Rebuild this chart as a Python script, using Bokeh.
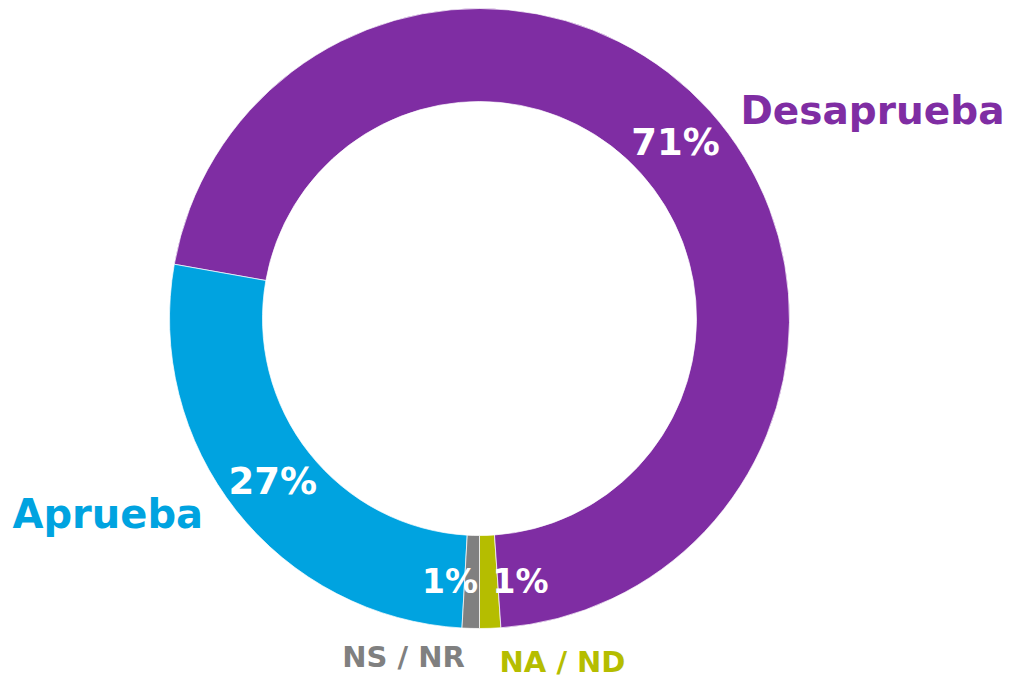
import numpy as np
from bokeh.plotting import figure
from bokeh.models import Range1d, ColumnDataSource
from bokeh.core.properties import value
from bokeh.embed import file_html
from bokeh.resources import INLINE

# data (order: counter-clockwise from 6 o'clock)
categories = ["NA / ND", "Desaprueba", "Aprueba", "NS / NR"]
values = [1.1, 71.1, 26.9, 0.9]
pct_labels = ["1%", "71%", "27%", "1%"]
colors = ["#B5BD00", "#7F2DA3", "#00A3E0", "#808080"]

FONT = "DejaVu Sans"
W, H = 1012, 678
CX, CY = 479, 318  # donut centre in figure pixels from top-left
R_OUT, R_IN = 310, 217

p = figure(width=W, height=H, output_backend="svg", toolbar_location=None,
           x_range=Range1d(-CX, W - CX), y_range=Range1d(-(H - CY), CY),
           min_border=0, outline_line_color=None)
p.axis.visible = False
p.grid.visible = False
p.background_fill_color = "white"
p.border_fill_color = "white"

vals = np.array(values, dtype=float)
frac = vals / vals.sum()
cum = np.concatenate([[0], np.cumsum(frac)])
start = -np.pi / 2 + 2 * np.pi * cum[:-1]
end = -np.pi / 2 + 2 * np.pi * cum[1:]
mid = (start + end) / 2

src = ColumnDataSource(dict(start=start, end=end, color=colors))
p.annular_wedge(x=0, y=0, inner_radius=R_IN, outer_radius=R_OUT,
                start_angle="start", end_angle="end", direction="anticlock",
                fill_color="color", line_color="white", line_width=0.7, source=src)

# percentage labels at mid radius
r_mid = (R_IN + R_OUT) / 2
aligns = ["left", "center", "center", "right"]
sizes = ["33px", "37px", "37px", "33px"]
xoffs = [4, 0, 0, 6]
lsrc = ColumnDataSource(dict(x=r_mid * np.cos(mid), y=r_mid * np.sin(mid),
                             t=pct_labels, align=aligns, size=sizes, xo=xoffs))
p.text(x="x", y="y", text="t", text_align="align", text_baseline="middle",
       x_offset="xo", text_font=value(FONT), text_font_style="bold",
       text_color="white", text_font_size="size", source=lsrc)

# category labels (pixel offsets from donut centre)
cat_x = [83, 261, -467, -76]
cat_y = [-343, 208, -195, -338]
cat_align = ["center", "left", "left", "center"]
cat_size = ["29px", "39px", "40px", "29px"]
csrc = ColumnDataSource(dict(x=cat_x, y=cat_y, t=categories, align=cat_align,
                             size=cat_size, color=colors))
p.text(x="x", y="y", text="t", text_align="align", text_baseline="middle",
       text_font=value(FONT), text_font_style="bold", text_color="color",
       text_font_size="size", source=csrc)

open("out.html", "w").write(file_html(p, INLINE))
